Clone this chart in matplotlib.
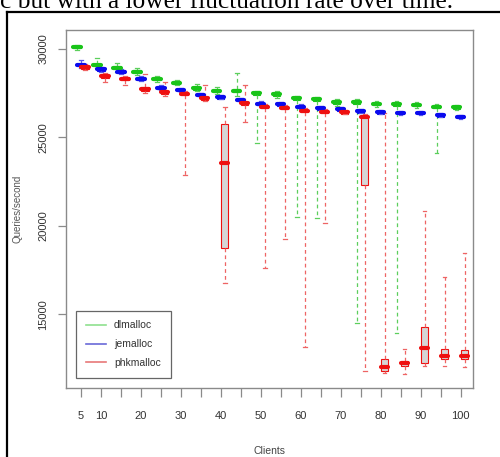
import matplotlib
matplotlib.use("Agg")
import matplotlib.pyplot as plt
from matplotlib.lines import Line2D

plt.rcParams['font.family'] = ['Liberation Sans', 'DejaVu Sans']

clients = [5, 10, 15, 20, 25, 30, 35, 40, 45, 50, 55, 60, 65, 70, 75, 80, 85, 90, 95, 100]
tick_labels = ['5', '10', '', '20', '', '30', '', '40', '', '50', '', '60', '', '70', '', '80', '', '90', '', '100']
names = ['dlmalloc', 'jemalloc', 'phkmalloc']

# dlmalloc
dl_med = [30110, 29100, 28940, 28720, 28310, 28100, 27780, 27630, 27640, 27500, 27440, 27215, 27160, 26980, 26990, 26890, 26875, 26835, 26740, 26705]
dl_q1 = [30030, 29020, 28860, 28640, 28230, 28020, 27700, 27550, 27560, 27420, 27360, 27135, 27080, 26900, 26910, 26810, 26795, 26755, 26660, 26625]
dl_q3 = [30190, 29180, 29020, 28800, 28390, 28180, 27860, 27710, 27720, 27580, 27520, 27295, 27240, 27060, 27070, 26970, 26955, 26915, 26820, 26785]
dl_lo = [29950, 28900, 28700, 28550, 28150, 27950, 27600, 27450, 27350, 24670, 27250, 20530, 20430, 26800, 14500, 26700, 13930, 26650, 24100, 26550]
dl_hi = [30250, 29470, 29200, 28900, 28500, 28250, 28000, 27850, 28630, 27650, 27600, 27350, 27300, 27150, 27150, 27050, 27050, 27000, 26900, 26850]

# jemalloc
je_med = [29100, 28850, 28720, 28320, 27810, 27680, 27400, 27270, 27120, 26890, 26875, 26740, 26650, 26590, 26480, 26420, 26370, 26370, 26255, 26175]
je_q1 = [29030, 28780, 28650, 28250, 27740, 27610, 27330, 27200, 27050, 26820, 26805, 26670, 26580, 26520, 26410, 26350, 26300, 26300, 26185, 26105]
je_q3 = [29170, 28920, 28790, 28390, 27880, 27750, 27470, 27340, 27190, 26960, 26945, 26810, 26720, 26660, 26550, 26490, 26440, 26440, 26325, 26245]
je_lo = [28950, 28700, 28580, 28180, 27680, 27550, 27280, 27150, 26980, 26770, 26760, 26620, 26530, 26470, 26360, 26300, 26250, 26250, 26140, 26060]
je_hi = [29380, 29000, 28880, 28460, 27950, 27820, 27540, 27420, 27260, 27040, 27000, 26870, 26780, 26720, 26600, 26550, 26500, 26500, 26380, 26290]

# phkmalloc
phk_med = [28970, 28460, 28320, 27740, 27550, 27470, 27215, 23540, 26930, 26740, 26685, 26500, 26455, 26425, 26160, 12050, 12240, 13120, 12650, 12650]
phk_q1 = [28890, 28380, 28240, 27650, 27460, 27390, 27135, 18770, 26850, 26660, 26605, 26420, 26375, 26345, 22300, 11800, 12100, 12240, 12480, 12480]
phk_q3 = [29050, 28540, 28400, 27830, 27640, 27550, 27295, 25750, 27010, 26820, 26765, 26580, 26535, 26505, 26240, 12470, 12380, 14270, 13030, 12990]
phk_lo = [28800, 28150, 27970, 27500, 27350, 22900, 27050, 16800, 25850, 17600, 19240, 13180, 20150, 26300, 11800, 11700, 11640, 12080, 12100, 12050]
phk_hi = [29150, 28650, 28500, 28560, 28150, 27650, 27950, 26700, 27970, 26900, 26850, 26650, 26600, 26560, 26350, 26400, 13030, 20860, 17130, 18460]

series = [
    (dl_med, dl_q1, dl_q3, dl_lo, dl_hi),
    (je_med, je_q1, je_q3, je_lo, je_hi),
    (phk_med, phk_q1, phk_q3, phk_lo, phk_hi),
]
colors = ['#19c419', '#0a0aee', '#ee1010']
whisker_colors = ['#5ccf5c', '#5a5ae8', '#ee6464']
legend_colors = ['#8fe08f', '#6a6ad8', '#e87878']
offsets = [-1.0, 0.0, 1.0]

fig = plt.figure(figsize=(5.0, 4.57), dpi=100)
ax = fig.add_axes([66 / 500, 1 - 388 / 457, 407 / 500, 358 / 457])

for (med, q1, q3, lo, hi), col, wcol, off in zip(series, colors, whisker_colors, offsets):
    stats = []
    for m, a, b, l, h in zip(med, q1, q3, lo, hi):
        stats.append(dict(med=m, q1=a, q3=b, whislo=l, whishi=h, fliers=[]))
    pos = [c + off for c in clients]
    ax.bxp(stats, positions=pos, widths=1.8, patch_artist=True, showfliers=False,
           capwidths=0.9, manage_ticks=False,
           boxprops=dict(facecolor='#d6d6d6', edgecolor=col, linewidth=0.8),
           medianprops=dict(color=col, linewidth=3.0, solid_capstyle='round'),
           whiskerprops=dict(color=wcol, linewidth=0.9, linestyle=(0, (3, 2.5))),
           capprops=dict(color=wcol, linewidth=0.9))

ax.set_xlim(1.25, 103.1)
ax.set_ylim(10846, 31074)
ax.set_xticks(clients)
ax.set_xticklabels(tick_labels)
ax.set_yticks([15000, 20000, 25000, 30000])
ax.set_yticklabels(['15000', '20000', '25000', '30000'], rotation=90, va='center')

frame_col = '#8a8a8a'
for s in ax.spines.values():
    s.set_color(frame_col)
    s.set_linewidth(1.0)
ax.tick_params(axis='x', length=6.5, width=0.9, color=frame_col, labelsize=8, labelcolor='#333333', pad=10)
ax.tick_params(axis='y', length=5.8, width=0.9, color=frame_col, labelsize=8, labelcolor='#333333', pad=7)

ax.set_xlabel('Clients', fontsize=7.5, color='#444444')
ax.xaxis.set_label_coords(0.5, -0.162)
ax.set_ylabel('Queries/second', fontsize=7, color='#555555')
ax.yaxis.set_label_coords(-0.108, 0.5)

handles = [Line2D([], [], color=c, linewidth=1.2) for c in legend_colors]
leg = ax.legend(handles, names, loc='lower left', bbox_to_anchor=(10 / 407, 10 / 358),
                borderaxespad=0, fancybox=False, framealpha=1, edgecolor='#666666',
                fontsize=7.5, handlelength=1.9, handletextpad=0.8, labelspacing=0.85,
                borderpad=0.95)
leg.get_frame().set_linewidth(0.9)
for t in leg.get_texts():
    t.set_color('#333333')

# surrounding document context
fig.text(0.0, 1 - 8 / 457, 'c but with a lower fluctuation rate over time.',
         family=['Liberation Serif', 'DejaVu Serif'], fontsize=18.3, va='baseline', ha='left',
         color='black')
fig.add_artist(Line2D([7 / 500, 7 / 500], [0, 1 - 12 / 457], transform=fig.transFigure,
                      color='black', linewidth=1.6))
fig.add_artist(Line2D([7 / 500, 1.0], [1 - 12 / 457, 1 - 12 / 457], transform=fig.transFigure,
                      color='black', linewidth=1.6))

fig.savefig('out.png', dpi=100)
